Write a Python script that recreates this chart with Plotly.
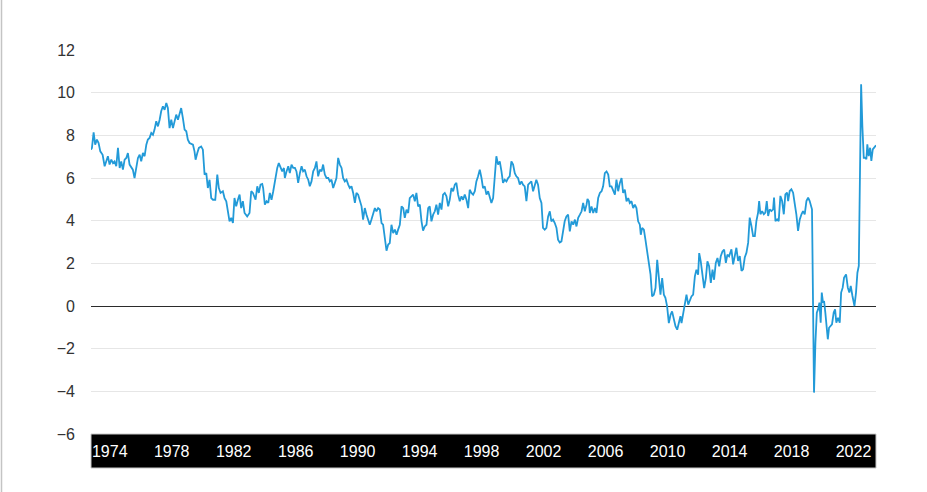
import plotly.graph_objects as go

# decimal years
years = [
    1973.94, 1974.00, 1974.11, 1974.21, 1974.32, 1974.43, 1974.54, 1974.69, 1974.82, 1974.92,
    1975.03, 1975.14, 1975.25, 1975.36, 1975.46, 1975.57, 1975.68, 1975.79, 1975.89, 1976.00,
    1976.11, 1976.22, 1976.32, 1976.43, 1976.64, 1976.75, 1976.86, 1976.97, 1977.08, 1977.18,
    1977.29, 1977.40, 1977.51, 1977.61, 1977.72, 1977.83, 1977.94, 1978.04, 1978.15, 1978.26,
    1978.37, 1978.47, 1978.58, 1978.69, 1978.80, 1978.90, 1979.01, 1979.12, 1979.23, 1979.33,
    1979.44, 1979.55, 1979.66, 1979.76, 1979.87, 1979.98, 1980.09, 1980.19, 1980.30, 1980.52,
    1980.62, 1980.69, 1980.80, 1980.90, 1981.05, 1981.16, 1981.27, 1981.38, 1981.48, 1981.59,
    1981.70, 1981.81, 1981.96, 1982.09, 1982.19, 1982.30, 1982.45, 1982.56, 1982.67, 1982.77,
    1982.88, 1982.99, 1983.10, 1983.20, 1983.31, 1983.42, 1983.53, 1983.63, 1983.74, 1983.85,
    1984.02, 1984.17, 1984.28, 1984.39,
    1984.56, 1984.67, 1984.77, 1984.88, 1984.99, 1985.05, 1985.16, 1985.27, 1985.38, 1985.48,
    1985.59, 1985.70, 1985.85, 1985.96, 1986.06, 1986.17, 1986.28, 1986.39, 1986.45, 1986.56,
    1986.67, 1986.77, 1986.88, 1986.99, 1987.10, 1987.20, 1987.31, 1987.42, 1987.53, 1987.63,
    1987.74, 1987.85, 1987.96, 1988.06, 1988.17, 1988.28, 1988.39, 1988.49, 1988.60, 1988.71,
    1988.82, 1988.92, 1989.03, 1989.14, 1989.25, 1989.35, 1989.46, 1989.57, 1989.68, 1989.78,
    1989.89, 1990.00, 1990.11, 1990.21, 1990.32, 1990.43, 1990.54, 1990.64, 1990.75, 1990.86,
    1990.97, 1991.07, 1991.18, 1991.29, 1991.40, 1991.50, 1991.61, 1991.72, 1991.83, 1991.93,
    1992.04, 1992.15, 1992.26, 1992.36, 1992.47, 1992.58, 1992.69, 1992.79, 1992.90, 1993.01,
    1993.12, 1993.22, 1993.33, 1993.44, 1993.55, 1993.66, 1993.76, 1993.87, 1993.98, 1994.09,
    1994.19, 1994.30, 1994.41, 1994.51,
    1994.62, 1994.73, 1994.84, 1994.94, 1995.05, 1995.16, 1995.27, 1995.37, 1995.48, 1995.59,
    1995.70, 1995.80, 1995.91, 1996.02, 1996.13, 1996.23, 1996.34, 1996.45, 1996.56, 1996.66,
    1996.77, 1996.88, 1996.99, 1997.09, 1997.20, 1997.31, 1997.42, 1997.52, 1997.63, 1997.74,
    1997.85, 1997.95, 1998.06, 1998.17, 1998.28, 1998.38, 1998.49, 1998.60, 1998.71, 1998.81,
    1998.92, 1999.03, 1999.14, 1999.24, 1999.35, 1999.46, 1999.57, 1999.67, 1999.78, 1999.89,
    2000.00, 2000.10, 2000.21, 2000.32, 2000.43, 2000.53, 2000.64, 2000.75, 2000.86, 2000.96,
    2001.07, 2001.18, 2001.29, 2001.39, 2001.50, 2001.61, 2001.72, 2001.82, 2001.93, 2002.04,
    2002.15, 2002.25, 2002.36, 2002.47, 2002.58, 2002.68, 2002.79, 2002.90, 2003.01, 2003.11,
    2003.22, 2003.33, 2003.44, 2003.55, 2003.65, 2003.76, 2003.87, 2003.98, 2004.08, 2004.19,
    2004.30, 2004.40, 2004.51, 2004.62, 2004.73, 2004.84,
    2004.95, 2005.06, 2005.17, 2005.27, 2005.38, 2005.49, 2005.60, 2005.70, 2005.81, 2005.92,
    2005.98, 2006.07, 2006.13, 2006.24, 2006.35, 2006.46, 2006.56, 2006.67, 2006.78, 2006.89,
    2006.99, 2007.10, 2007.21, 2007.32, 2007.42, 2007.53, 2007.64, 2007.75, 2007.85, 2007.96,
    2008.07, 2008.18, 2008.28, 2008.39, 2008.50, 2008.61, 2008.71, 2008.82, 2008.93, 2009.04,
    2009.14, 2009.25, 2009.36, 2009.42, 2009.51, 2009.62, 2009.72, 2009.83, 2009.94, 2010.05,
    2010.15, 2010.26, 2010.37, 2010.48, 2010.58, 2010.69, 2010.80, 2010.91, 2011.01, 2011.12,
    2011.23, 2011.34, 2011.44, 2011.55, 2011.66, 2011.77, 2011.87, 2011.98, 2012.05, 2012.15,
    2012.26, 2012.37, 2012.48, 2012.58, 2012.69, 2012.80, 2012.91, 2013.01, 2013.12, 2013.19,
    2013.29, 2013.40, 2013.51, 2013.62, 2013.72, 2013.83, 2013.94, 2014.05, 2014.15, 2014.26,
    2014.37, 2014.48, 2014.58, 2014.69, 2014.80, 2014.91, 2015.01, 2015.12,
    2015.27, 2015.38, 2015.49, 2015.59, 2015.70, 2015.81, 2015.92, 2016.02, 2016.13, 2016.24,
    2016.35, 2016.45, 2016.56, 2016.67, 2016.78, 2016.88, 2016.99, 2017.06, 2017.14, 2017.25,
    2017.36, 2017.46, 2017.55, 2017.64, 2017.74, 2017.85, 2017.96, 2018.02, 2018.11, 2018.22,
    2018.32, 2018.43, 2018.54, 2018.65, 2018.75, 2018.86, 2018.93, 2019.03, 2019.14, 2019.25,
    2019.36, 2019.46, 2019.57, 2019.68, 2019.79, 2019.89, 2020.00, 2020.11, 2020.22, 2020.32,
    2020.47, 2020.60, 2020.69, 2020.78, 2020.86, 2020.95, 2021.03, 2021.10, 2021.18, 2021.25,
    2021.33, 2021.40, 2021.49, 2021.57, 2021.68, 2021.76, 2021.87, 2021.96, 2022.04, 2022.15,
    2022.26, 2022.35, 2022.45, 2022.54, 2022.67, 2022.78, 2022.88, 2022.97, 2023.08, 2023.21,
    2023.31, 2023.40, 2023.49, 2023.64, 2023.72, 2023.81, 2023.89, 2023.98, 2024.04, 2024.13,
    2024.22, 2024.30, 2024.39, 2024.47, 2024.56, 2024.60,
]

values = [
    7.33, 7.41, 8.14, 7.56, 7.80, 7.64, 7.25, 7.09, 6.55, 6.78,
    7.02, 6.63, 6.86, 6.70, 6.78, 6.55, 7.41, 6.47, 6.78, 6.39,
    6.86, 6.94, 7.17, 6.63, 6.39, 6.00, 6.47, 6.94, 7.09, 6.78,
    7.17, 7.02, 7.56, 7.80, 7.88, 8.11, 8.03, 8.27, 8.66, 8.42,
    8.73, 9.13, 9.36, 9.20, 9.52, 9.28, 8.34, 8.73, 8.34, 8.66,
    8.97, 8.73, 9.05, 9.28, 8.81, 8.27, 8.19, 7.80, 7.64, 7.56,
    7.25, 6.86, 7.17, 7.41, 7.48, 7.33, 6.16, 6.23, 5.53, 5.92,
    5.06, 4.98, 4.98, 6.16, 5.53, 5.30, 5.38, 5.06, 4.91, 4.44,
    3.97, 4.13, 3.89, 5.06, 4.67, 4.98, 5.22, 4.59, 4.91, 4.36,
    4.20, 4.36, 5.38, 5.30,
    4.98, 5.61, 5.30, 5.69, 5.72, 5.53, 4.75, 4.91, 4.83, 5.30,
    4.98, 5.38, 6.08, 6.47, 6.70, 6.47, 6.31, 6.47, 6.00, 6.31,
    6.55, 6.23, 6.63, 6.47, 6.47, 6.31, 5.77, 6.23, 6.55, 6.31,
    6.39, 6.08, 5.92, 5.61, 5.84, 6.31, 6.47, 6.78, 6.08, 6.39,
    6.31, 6.63, 6.16, 6.00, 6.00, 5.84, 5.92, 5.53, 5.84, 6.00,
    6.94, 6.63, 6.47, 6.00, 5.84, 5.92, 5.69, 5.53, 5.61, 5.30,
    4.83, 5.30, 5.22, 4.98, 4.67, 4.05, 4.59, 4.28, 3.97, 3.81,
    4.05, 4.36, 4.59, 4.44, 4.59, 4.52, 3.89, 3.81, 3.19, 2.59,
    2.88, 2.95, 3.81, 3.42, 3.58, 3.34, 3.58, 3.81, 4.67, 4.59,
    4.13, 4.52, 4.36, 5.06,
    5.14, 5.22, 4.91, 5.30, 4.67, 4.75, 3.97, 3.53, 3.73, 3.81,
    4.59, 4.67, 3.97, 4.28, 4.44, 4.75, 4.28, 4.83, 4.52, 5.22,
    5.30, 5.14, 4.67, 4.98, 5.53, 5.38, 5.69, 5.77, 5.22, 4.91,
    5.14, 4.98, 5.22, 4.98, 4.59, 5.45, 5.30, 5.22, 5.38, 5.84,
    6.08, 6.39, 6.00, 5.53, 5.61, 5.22, 5.38, 5.14, 4.83, 5.06,
    6.08, 7.02, 6.63, 6.78, 6.31, 5.77, 5.92, 5.84, 6.00, 6.08,
    6.78, 6.63, 6.23, 6.08, 6.00, 5.69, 5.84, 5.69, 5.61, 4.91,
    5.69, 5.77, 5.84, 5.38, 5.61, 5.92, 5.69, 5.06, 4.83, 3.66,
    3.58, 3.66, 4.20, 4.44, 3.97, 4.05, 3.89, 3.66, 3.11, 2.98,
    3.03, 3.42, 3.97, 4.20, 4.28, 3.50,
    3.97, 3.81, 4.05, 3.73, 4.13, 4.28, 4.44, 4.83, 4.44, 4.75,
    5.02, 4.91, 4.36, 4.67, 4.36, 4.59, 4.36, 5.06, 5.30, 5.38,
    5.61, 6.23, 6.31, 6.16, 5.61, 5.61, 5.45, 5.22, 5.92, 5.38,
    5.77, 6.00, 5.30, 5.45, 4.91, 5.06, 4.83, 4.91, 4.59, 4.75,
    4.59, 3.97, 3.81, 3.34, 3.66, 3.58, 3.11, 2.56, 2.02, 1.47,
    0.45, 0.53, 0.84, 2.17, 1.39, 0.53, 1.31, 0.53, 0.38, -0.02,
    -0.80, -0.41, -0.25, -0.64, -0.95, -1.11, -0.72, -0.48, -0.80, -0.41,
    0.14, 0.53, 0.06, 0.30, 0.45, 0.53, 1.39, 1.70, 1.47, 2.48,
    2.09, 1.47, 0.84, 1.31, 2.09, 1.86, 1.08, 1.70, 1.23, 2.02,
    2.25, 1.86, 2.33, 2.56, 2.64, 2.02, 2.41, 2.33,
    2.66, 1.95, 2.34, 2.73, 2.11, 2.34, 1.64, 1.72, 2.27, 2.50,
    2.97, 4.14, 3.75, 3.28, 3.28, 3.98, 4.38, 4.92, 4.30, 4.45,
    4.30, 4.38, 4.92, 4.22, 4.53, 4.45, 4.53, 5.08, 3.98, 4.06,
    3.98, 5.16, 4.92, 4.30, 5.23, 5.31, 4.92, 5.39, 5.47, 5.31,
    4.77, 4.30, 3.52, 4.06, 4.30, 4.45, 4.30, 4.92, 5.08, 4.92,
    4.53, -4.06, -1.72, -0.31, -0.16, 0.16, -0.78, 0.63, 0.16, 0.23,
    -0.31, -1.02, -1.56, -1.02, -0.94, -0.86, -0.31, -0.16, -0.78, -0.55,
    -0.78, 0.63, 0.86, 1.33, 1.48, 0.86, 0.63, 0.94, 0.47, 0.00,
    0.63, 1.56, 1.88, 10.39, 8.44, 6.95, 6.95, 6.88, 7.58, 7.03,
    7.42, 6.80, 7.34, 7.42, 7.50, 7.53,
]

tick_years = [1974, 1978, 1982, 1986, 1990, 1994, 1998, 2002, 2006, 2010, 2014, 2018, 2022]
tick_labels = [str(y) for y in tick_years]
y_ticks = [-6, -4, -2, 0, 2, 4, 6, 8, 10, 12]
y_labels = ["\u22126", "\u22124", "\u22122", "0", "2", "4", "6", "8", "10", "12"]

W, H = 927, 492
ML, MR, MT, MB = 91, 51, 50, 58
PW, PH = W - ML - MR, H - MT - MB
FONT = "Liberation Sans, Arial, Helvetica, sans-serif"

fig = go.Figure()
fig.add_trace(go.Scatter(
    x=years, y=values, mode="lines",
    line=dict(color="#229ad8", width=1.8),
    hoverinfo="x+y",
))

# black band behind x tick labels
fig.add_shape(type="rect", xref="paper", yref="paper",
              x0=0, x1=1, y0=-34 / PH, y1=0,
              fillcolor="black", line=dict(color="#c8c8c8", width=1), layer="below")
# thin grey border at the left edge
fig.add_shape(type="line", xref="paper", yref="paper",
              x0=(1.5 - ML) / PW, x1=(1.5 - ML) / PW,
              y0=-MB / PH, y1=1 + MT / PH,
              line=dict(color="#c4c4c4", width=1.5), layer="below")

fig.update_layout(
    width=W, height=H,
    margin=dict(l=ML, r=MR, t=MT, b=MB),
    plot_bgcolor="white", paper_bgcolor="white",
    showlegend=False,
    font=dict(family=FONT),
    xaxis=dict(
        range=[1973.94, 2024.6],
        tickvals=tick_years, ticktext=tick_labels,
        tickfont=dict(color="white", size=16, family=FONT),
        ticklabelposition="outside right",
        ticks="", showgrid=False, zeroline=False, showline=False,
        ticklabelstandoff=6,
    ),
    yaxis=dict(
        range=[-6, 12],
        tickvals=y_ticks, ticktext=y_labels,
        tickfont=dict(color="#333333", size=16, family=FONT),
        ticks="", showgrid=True, gridcolor="#e6e6e6", gridwidth=1,
        zeroline=True, zerolinecolor="#2b2b2b", zerolinewidth=1.4,
        showline=False, ticklabelstandoff=15,
    ),
)

fig.write_html("out.html", config={"displayModeBar": False},
               post_script="document.body.style.margin='0';")
